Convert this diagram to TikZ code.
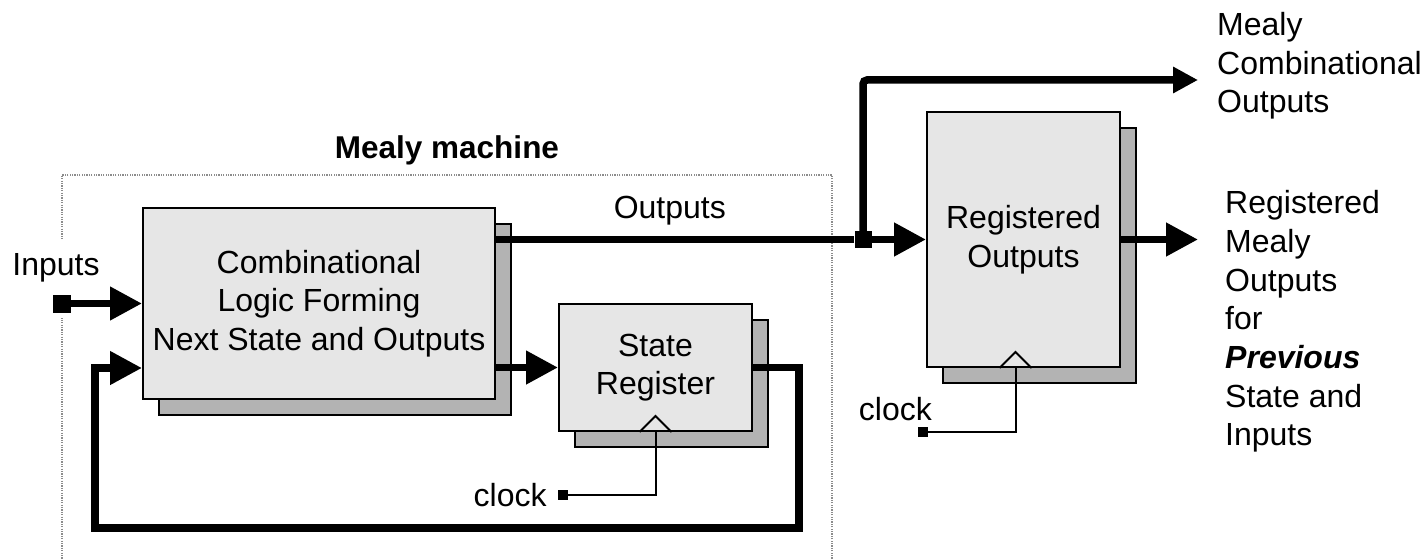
\documentclass[tikz,border=0pt]{standalone}
\usepackage{fontspec}
\setmainfont{Liberation Sans}
\usetikzlibrary{arrows.meta,positioning,calc,shadows}
\definecolor{BoxFace}{HTML}{E6E6E6}
\definecolor{BoxShade}{HTML}{B3B3B3}
\definecolor{FrameGray}{HTML}{8C8C8C}
\newcommand{\lblfont}{\fontsize{32}{38.7}\selectfont}

\begin{document}
\begin{tikzpicture}[x=1pt,y=-1pt,font=\lblfont,
    blk/.style={rectangle,draw=black,line width=2pt,fill=BoxFace,
                inner sep=0pt,align=center,
                copy shadow={shadow xshift=16pt,shadow yshift=-16pt,
                             fill=BoxShade,draw=black,line width=2pt}},
    mframe/.style={rectangle,draw=FrameGray,line width=1.2pt,
                   dash pattern=on 1.2pt off 1.2pt},
    bus/.style={line width=7.5pt},
    arr/.style={-{Triangle[length=32pt,width=32pt]}},
    arrs/.style={-{Triangle[length=25pt,width=25pt]}},
    wire/.style={line width=2pt},
    term/.style={rectangle,fill=black,inner sep=0pt,minimum size=#1},
    lbl/.style={inner sep=0pt,align=left}]
\useasboundingbox (0,0) rectangle (1427,559);

% dotted frame of the Mealy machine
\node[mframe,minimum width=770pt,minimum height=420pt] (mm) at (447,385) {};
\node[lbl,font=\bfseries\fontsize{31.5}{38}\selectfont,above=9pt of mm] (mmL) {Mealy machine};

% blocks
\node[blk,minimum width=352pt,minimum height=191pt] (clf) at (319,303.5)
  {Combinational\\Logic Forming\\Next State and Outputs};
\node[blk,minimum width=193pt,minimum height=127pt] (sr) at (655.5,367.5)
  {State\\Register};
\node[blk,minimum width=193pt,minimum height=255pt] (ro) at (1023.5,239.5)
  {Registered\\Outputs};

% inputs
\node[lbl,fill=white,text height=35pt,text depth=43pt,anchor=base] (inL) at (56,275) {Inputs};
\node[term=18pt] (inT) at ([xshift=6pt,yshift=-28.5pt]inL.base) {};
\draw[bus,arr] (inT) -- (clf.west);

% next state and feedback
\coordinate (fbR) at (799,528);
\coordinate (fbL) at (95,528);
\draw[bus,arr] (clf.east |- sr.west) -- (sr.west);
\draw[bus,arr] (sr.east) -| (fbR) -- (fbL) |- ([yshift=-64.5pt]clf.west);

% outputs
\node[term=17pt] (jn) at (863,0 |- ro.west) {};
\coordinate (mco) at (1198,80);
\coordinate (rmo) at (1198,0 |- ro.east);
\draw[bus] (clf.east |- jn) -- node[lbl,pos=0.485,above=11pt] (outL) {Outputs} (jn);
\draw[bus,arr] (jn) -- (ro.west);
\draw[bus,arrs,rounded corners=4pt] (jn) |- (mco);
\draw[bus,arr] (ro.east) -- (rmo);
\node[lbl,anchor=west] (mcoL) at ([xshift=19pt,yshift=14pt]mco)
  {Mealy\\Combinational\\Outputs};
\node[lbl,anchor=west] (rmoL) at ([xshift=27pt,yshift=-82pt]rmo)
  {Registered\\Mealy\\Outputs\\for\\\textbf{\textit{Previous}}\\State and\\Inputs};

% clocks
\draw[wire] ([xshift=-16pt]sr.south) -- ([yshift=16pt]sr.south) -- ([xshift=16pt]sr.south);
\node[term=10pt] (ckA) at (563,495) {};
\node[lbl,left=11pt of ckA] (ckAL) {clock};
\draw[wire] (ckA) -| (sr.south);

\coordinate (roClk) at ([xshift=-8pt]ro.south);
\draw[wire] ([xshift=-16pt]roClk) -- ([yshift=16pt]roClk) -- ([xshift=16pt]roClk);
\node[term=10pt] (ckB) at (923,432) {};
\node[lbl,anchor=base east] (ckBL) at ([xshift=9pt,yshift=12pt]ckB.center) {clock};
\draw[wire] (ckB) -| (roClk);
\end{tikzpicture}
\end{document}
